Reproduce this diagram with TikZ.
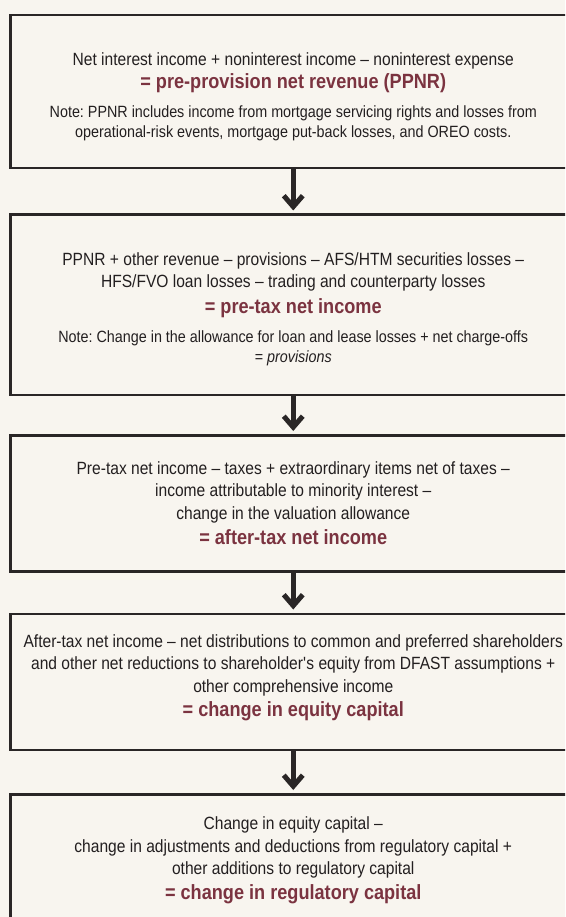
\documentclass[tikz,border=0pt]{standalone}
\usepackage{fontspec}
\setmainfont{Liberation Sans}[FakeStretch=0.88]
\usetikzlibrary{arrows.meta,positioning}
\definecolor{cream}{HTML}{F8F5EF}
\definecolor{ink}{HTML}{231F20}
\definecolor{rust}{HTML}{7B3340}
\definecolor{frame}{HTML}{2A2626}
\frenchspacing
\newcommand{\eqline}[1]{{\fontsize{20.6}{24}\selectfont\bfseries\color{rust}#1}}
\newcommand{\notesz}{\fontsize{16.3}{20}\selectfont}
\newcommand{\padtop}[1]{\rule{0pt}{#1}}
\newcommand{\padbot}[1]{\rule[-#1]{0pt}{1pt}}
\tikzset{
  stage/.style={rectangle,draw=frame,line width=2.5pt,fill=cream,align=center,minimum width=566pt,inner sep=0pt,text=ink,font=\fontsize{17.7}{22.5}\selectfont},
  flow/.style={-{Straight Barb[length=11pt,width=19pt]},line width=5pt,draw=frame,shorten >=3pt}
}

\begin{document}
\begin{tikzpicture}[x=1pt,y=1pt]
    \clip (0,0) rectangle (565,-917);
    \fill[cream] (0,0) rectangle (565,-917);
    \node[stage,anchor=north west,minimum height=153pt] (ppnr) at (9,-14) {\padtop{23pt}Net interest income + noninterest income -- noninterest expense\\[0pt]\eqline{= pre-provision net revenue (PPNR)}\\[7pt]{\notesz Note: PPNR includes income from mortgage servicing rights and losses from}\\[-3pt]{\notesz operational-risk events, mortgage put-back losses, and OREO costs.}};
    \node[stage,below=44pt of ppnr,minimum height=180pt] (pretax) {\padtop{21pt}PPNR + other revenue -- provisions -- AFS/HTM securities losses --\\HFS/FVO loan losses -- trading and counterparty losses\\[3pt]\eqline{= pre-tax net income}\\[7pt]{\notesz Note: Change in the allowance for loan and lease losses + net charge-offs}\\[-3pt]{\notesz = \itshape provisions}};
    \node[stage,below=38pt of pretax,minimum height=136pt] (aftertax) {Pre-tax net income -- taxes + extraordinary items net of taxes --\\income attributable to minority interest --\\change in the valuation allowance\\[3pt]\eqline{= after-tax net income}};
    \node[stage,below=40pt of aftertax,minimum height=136pt] (equity) {After-tax net income -- net distributions to common and preferred shareholders\\and other net reductions to shareholder\textquotesingle s equity from DFAST assumptions +\\other comprehensive income\\[2pt]\eqline{= change in equity capital}\padbot{12.5pt}};
    \node[stage,below=42pt of equity,minimum height=132pt] (regcap) {Change in equity capital --\\change in adjustments and deductions from regulatory capital +\\other additions to regulatory capital\\[2pt]\eqline{= change in regulatory capital}};
    \draw[flow] (ppnr) -- (pretax);
    \draw[flow] (pretax) -- (aftertax);
    \draw[flow] (aftertax) -- (equity);
    \draw[flow] (equity) -- (regcap);
  \end{tikzpicture}
\end{document}
